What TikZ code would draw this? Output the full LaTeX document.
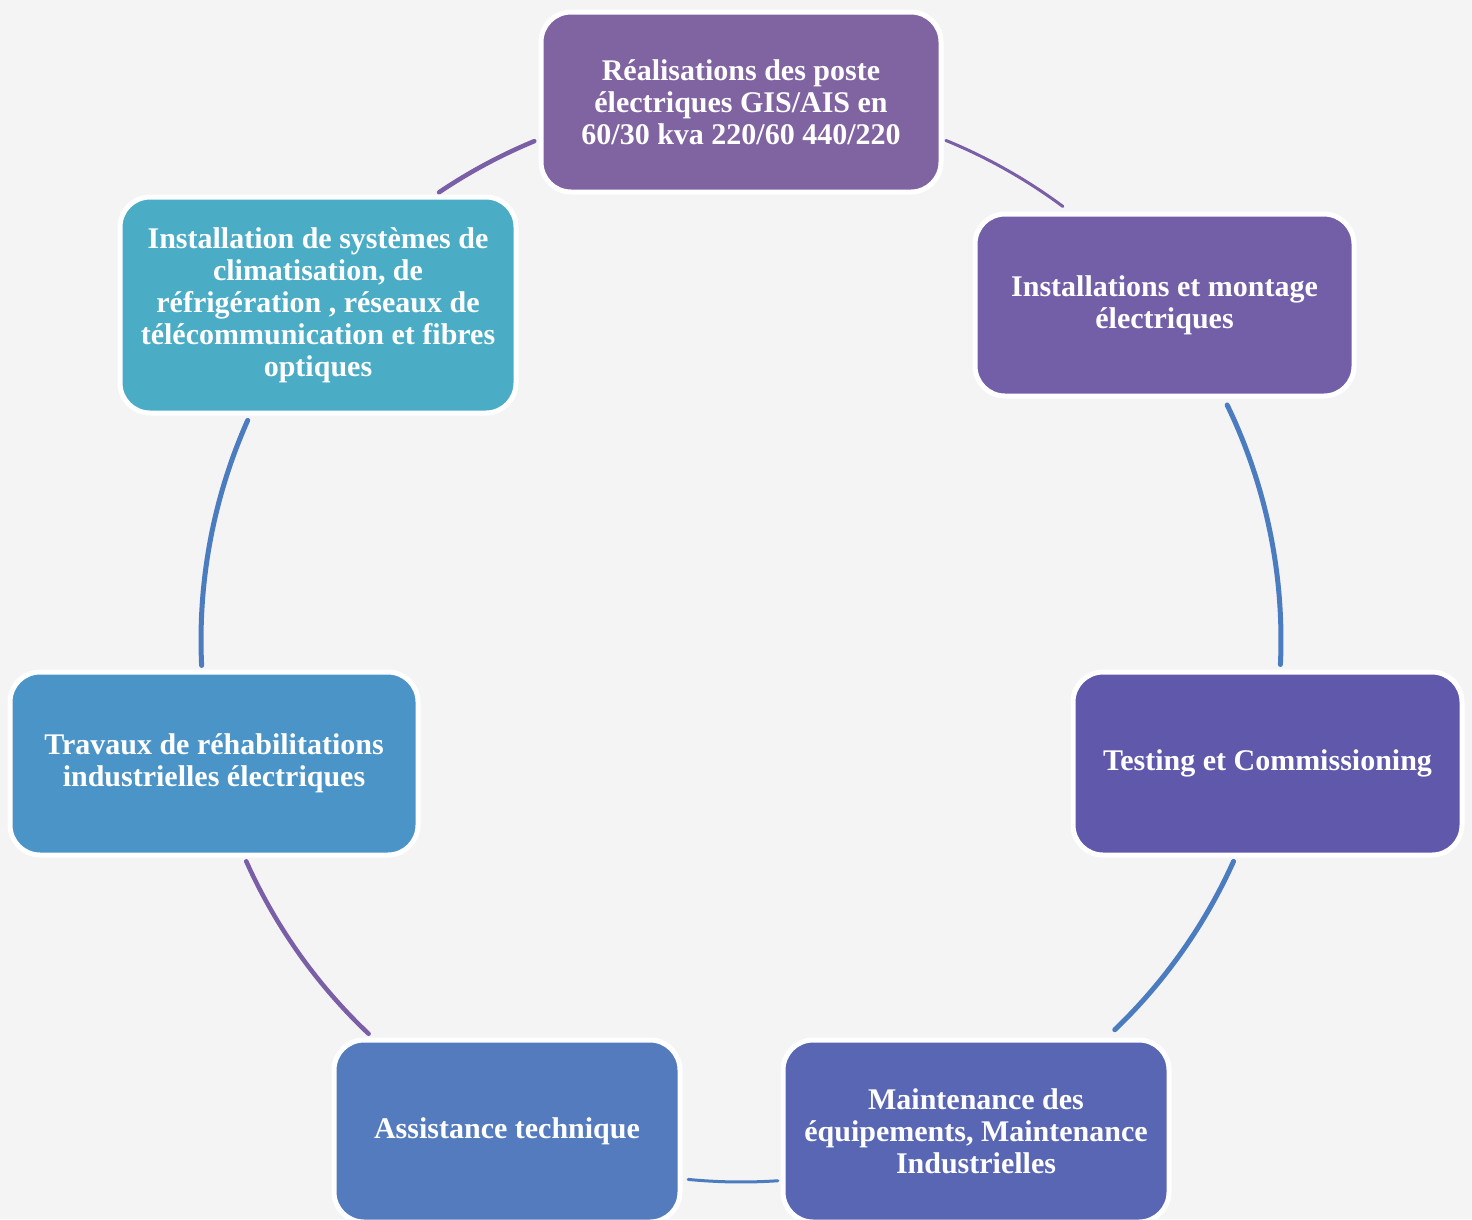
\documentclass[tikz,border=0pt]{standalone}
\usepackage{fontspec}
\setmainfont{Liberation Serif}
\begin{document}
\begin{tikzpicture}[x=1pt,y=1pt,
  box/.style={rounded corners=30pt, draw=white, line width=5pt, align=center,
    text=white, font=\bfseries\fontsize{30}{32}\selectfont, inner sep=0pt},
  arcP/.style={draw=arcpurple, line width=4.5pt, line cap=round},
  arcPt/.style={draw=arcpurple, line width=3pt, line cap=round},
  arcB/.style={draw=arcblue, line width=5pt, line cap=round},
  arcBt/.style={draw=arcblue, line width=3pt, line cap=round}]
\definecolor{bg}{HTML}{F4F4F4}
\definecolor{c1}{HTML}{8064A2}
\definecolor{c2}{HTML}{735FA8}
\definecolor{c3}{HTML}{5F58AB}
\definecolor{c4}{HTML}{5966B3}
\definecolor{c5}{HTML}{537BBE}
\definecolor{c6}{HTML}{4B94C7}
\definecolor{c7}{HTML}{4BACC6}
\definecolor{arcpurple}{HTML}{7A5FA6}
\definecolor{arcblue}{HTML}{4C7CC0}
\useasboundingbox (0,0) rectangle (1472,-1219);
\fill[bg] (0,0) rectangle (1472,-1219);
\coordinate (O) at (741,-640);
% arcs (connectors along the circle)
\draw[arcPt] ([shift={(67.7:540)}]O) arc[start angle=67.7, end angle=53.4, radius=540];
\draw[arcB]  ([shift={(25.8:540)}]O) arc[start angle=25.8, end angle=-2.6, radius=540];
\draw[arcB]  ([shift={(-24.2:540)}]O) arc[start angle=-24.2, end angle=-46.2, radius=540];
\draw[arcBt] ([shift={(-86.1:542)}]O) arc[start angle=-86.1, end angle=-95.6, radius=542];
\draw[arcP]  ([shift={(-133.4:542)}]O) arc[start angle=-133.4, end angle=-155.9, radius=542];
\draw[arcB]  ([shift={(182.7:540)}]O) arc[start angle=182.7, end angle=156, radius=540];
\draw[arcP]  ([shift={(124:540)}]O) arc[start angle=124, end angle=112.5, radius=540];
% boxes
\node[box, fill=c1, minimum width=400pt, minimum height=180pt] (b1) at (741,-102)
  {Réalisations des poste\\électriques GIS/AIS en\\60/30 kva 220/60 440/220};
\node[box, fill=c2, minimum width=379pt, minimum height=182pt] (b2) at (1164.5,-305)
  {Installations et montage\\électriques};
\node[box, fill=c3, minimum width=389pt, minimum height=183pt] (b3) at (1267.5,-763.5)
  {Testing et Commissioning};
\node[box, fill=c4, minimum width=386pt, minimum height=182pt] (b4) at (976,-1131)
  {Maintenance des\\équipements, Maintenance\\Industrielles};
\node[box, fill=c5, minimum width=346pt, minimum height=182pt] (b5) at (507,-1131)
  {Assistance technique};
\node[box, fill=c6, minimum width=408pt, minimum height=183pt] (b6) at (214,-763.5)
  {Travaux de réhabilitations\\industrielles électriques};
\node[box, fill=c7, minimum width=396pt, minimum height=216pt] (b7) at (318,-305)
  {Installation de systèmes de\\climatisation, de\\réfrigération , réseaux de\\télécommunication et fibres\\optiques};
\end{tikzpicture}
\end{document}
